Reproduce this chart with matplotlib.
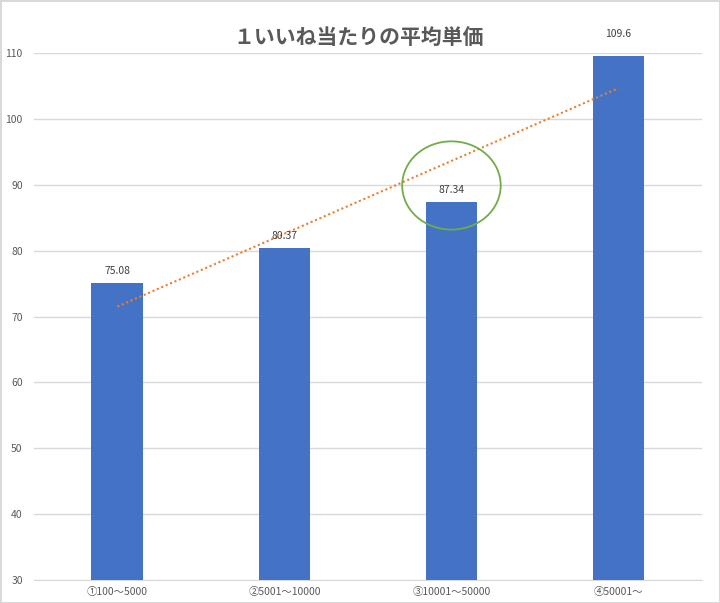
import numpy as np
import matplotlib
matplotlib.use('Agg')
import matplotlib.pyplot as plt
from matplotlib.patches import Ellipse

plt.rcParams['font.family'] = ['Noto Sans CJK JP', 'DejaVu Sans']

categories = ['①100～5000', '②5001～10000', '③10001～50000', '④50001～']
values = [75.08, 80.37, 87.34, 109.6]
value_labels = ['75.08', '80.37', '87.34', '109.6']
title = '１いいね当たりの平均単価'

fig = plt.figure(figsize=(7.2, 6.03), dpi=100)
fig.patch.set_edgecolor('#D9D9D9')
fig.patch.set_linewidth(2)
ax = fig.add_axes([0.047, 0.038, 0.928, 0.874])

x = np.arange(len(categories))
ax.bar(x, values, width=0.31, color='#4472C4', zorder=3)

# linear trendline
slope, intercept = np.polyfit(x, values, 1)
ax.plot(x, slope * x + intercept, color='#ED7D31', lw=1.5,
        linestyle=(0, (1, 1.3)), zorder=4)

# data labels
offsets = [5, 5, 5, 12]
for xi, v, lab, off in zip(x, values, value_labels, offsets):
    ax.annotate(lab, (xi, v), xytext=(0, off), textcoords='offset points',
                ha='center', va='bottom', fontsize=7.5, color='#404040',
                clip_on=False, zorder=5)

# highlight circle around the third bar
ax.add_patch(Ellipse((2, 89.9), 0.59, 13.4, fill=False,
                     edgecolor='#70AD47', lw=1.3, zorder=5))

ax.set_xlim(-0.5, 3.5)
ax.set_ylim(30, 110)
ax.set_yticks(range(30, 111, 10))
ax.set_xticks(x)
ax.set_xticklabels(categories)
ax.tick_params(axis='both', length=0, labelsize=7.5, labelcolor='#595959')
ax.tick_params(axis='x', pad=5)
ax.tick_params(axis='y', pad=8)
ax.grid(axis='y', color='#D9D9D9', lw=1, zorder=0)
for s in ['top', 'right', 'left']:
    ax.spines[s].set_visible(False)
ax.spines['bottom'].set_color('#D9D9D9')

fig.text(0.498, 0.936, title, ha='center', va='center', fontsize=15,
         fontweight='bold', color='#595959')

fig.savefig('out.png', dpi=100, edgecolor=fig.get_edgecolor())
